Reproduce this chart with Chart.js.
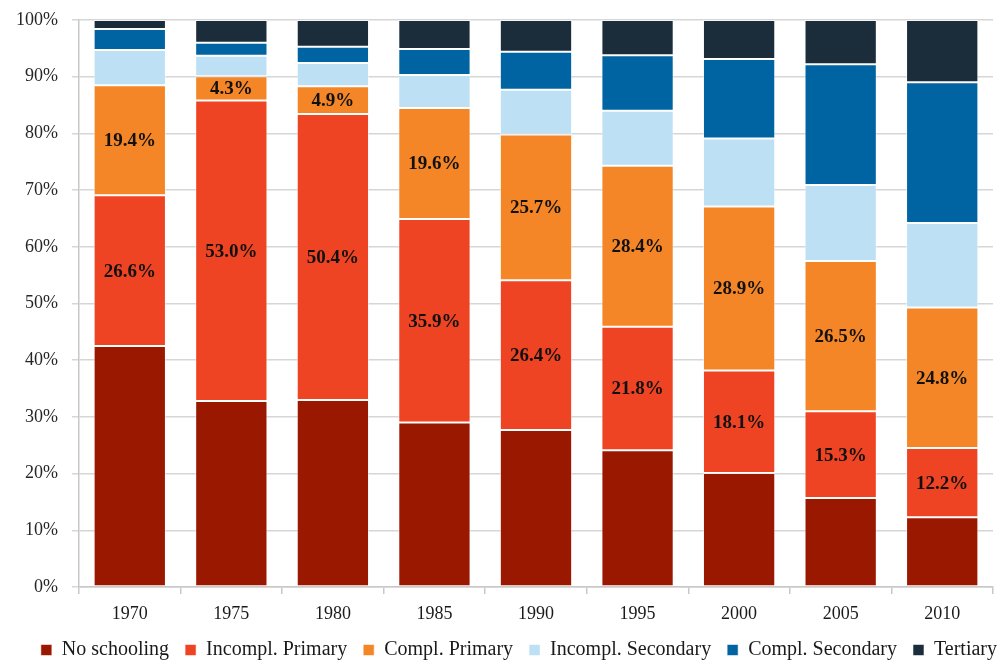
<!DOCTYPE html>
<html>
<head>
<meta charset="utf-8">
<script src="https://cdn.jsdelivr.net/npm/chart.js@4.4.1/dist/chart.umd.min.js"></script>
<style>
  html, body { margin: 0; padding: 0; background: #ffffff; }
  #wrap { width: 1003px; height: 668px; }
</style>
</head>
<body>
<div id="wrap"><canvas id="chart" width="1003" height="668"></canvas></div>
<script>
// Educational attainment shares by year (percent of population)
const years = ['1970', '1975', '1980', '1985', '1990', '1995', '2000', '2005', '2010'];

const noSchooling       = [42.5, 32.8, 33.0, 29.0, 27.7, 24.1, 20.1, 15.7, 12.3];
const incomplPrimary    = [26.6, 53.0, 50.4, 35.9, 26.4, 21.8, 18.1, 15.3, 12.2];
const complPrimary      = [19.4,  4.3,  4.9, 19.6, 25.7, 28.4, 28.9, 26.5, 24.8];
const incomplSecondary  = [ 6.2,  3.6,  4.1,  5.8,  7.9,  9.7, 12.0, 13.4, 14.9];
const complSecondary    = [ 3.7,  2.3,  2.9,  4.6,  6.7,  9.8, 14.0, 21.3, 24.8];
const tertiary          = [ 1.6,  4.0,  4.7,  5.1,  5.6,  6.2,  6.9,  7.8, 11.0];

const yTicks = [0, 10, 20, 30, 40, 50, 60, 70, 80, 90, 100];

const seriesNames  = ['No schooling', 'Incompl. Primary', 'Compl. Primary', 'Incompl. Secondary', 'Compl. Secondary', 'Tertiary'];
const seriesColors = ['#9a1800', '#ee4423', '#f48627', '#bde0f5', '#0064a3', '#1b2d3b'];
const seriesData   = [noSchooling, incomplPrimary, complPrimary, incomplSecondary, complSecondary, tertiary];
// only the two primary-level series carry value labels
const labelledSeries = [1, 2];

const FONT = "'Liberation Serif', 'Times New Roman', serif";

// Writes the value in the middle of each labelled segment
const segmentLabels = {
  id: 'segmentLabels',
  afterDatasetsDraw(chart) {
    const ctx = chart.ctx;
    ctx.save();
    ctx.font = "bold 19px " + FONT;
    ctx.fillStyle = '#111111';
    ctx.textAlign = 'center';
    ctx.textBaseline = 'middle';
    labelledSeries.forEach(di => {
      const meta = chart.getDatasetMeta(di);
      meta.data.forEach((bar, i) => {
        const v = chart.data.datasets[di].data[i];
        const cy = (bar.y + bar.base) / 2;
        ctx.fillText(v.toFixed(1) + '%', bar.x, cy + 1);
      });
    });
    ctx.restore();
  }
};

// Lets the legend row run out to the right edge of the canvas
const legendNudge = {
  id: 'legendNudge',
  afterLayout(chart) {
    if (chart.legend) {
      chart.legend.left += 20;
      chart.legend.right += 20;
    }
  }
};

const datasets = seriesNames.map((name, k) => ({
  label: name,
  data: seriesData[k],
  backgroundColor: seriesColors[k],
  borderColor: 'rgba(255,255,255,0.55)',
  borderWidth: 1,
  borderSkipped: false,
  categoryPercentage: 1.0,
  barPercentage: 0.712
}));

new Chart(document.getElementById('chart'), {
  type: 'bar',
  data: { labels: years, datasets },
  options: {
    responsive: false,
    animation: false,
    layout: { padding: { left: 0, right: 10, top: 20, bottom: -2 } },
    plugins: {
      tooltip: { enabled: false },
      legend: {
        position: 'bottom',
        align: 'end',
        labels: {
          font: { family: FONT, size: 20 },
          color: '#1a1a1a',
          boxWidth: 11,
          boxHeight: 11,
          padding: 16
        }
      }
    },
    scales: {
      x: {
        stacked: true,
        grid: {
          display: true,
          drawOnChartArea: false,
          offset: true,
          tickLength: 7,
          color: '#c8c8c8',
          lineWidth: 1.5
        },
        border: { color: '#c8c8c8', width: 1.5 },
        ticks: {
          font: { family: FONT, size: 18 },
          color: '#1a1a1a',
          padding: 9
        },
        afterFit(scale) { scale.height = 37; }
      },
      y: {
        stacked: true,
        min: 0,
        max: 100,
        afterBuildTicks(scale) { scale.ticks = yTicks.map(v => ({ value: v })); },
        grid: {
          color: '#d6d6d6',
          lineWidth: 1.5,
          tickLength: 7
        },
        border: { color: '#c8c8c8', width: 1.5 },
        ticks: {
          font: { family: FONT, size: 18, lineHeight: 0.4 },
          color: '#262626',
          padding: 14,
          callback: v => v + '%'
        },
        afterFit(scale) { scale.width = 79; }
      }
    }
  },
  plugins: [segmentLabels, legendNudge]
});
</script>
</body>
</html>
